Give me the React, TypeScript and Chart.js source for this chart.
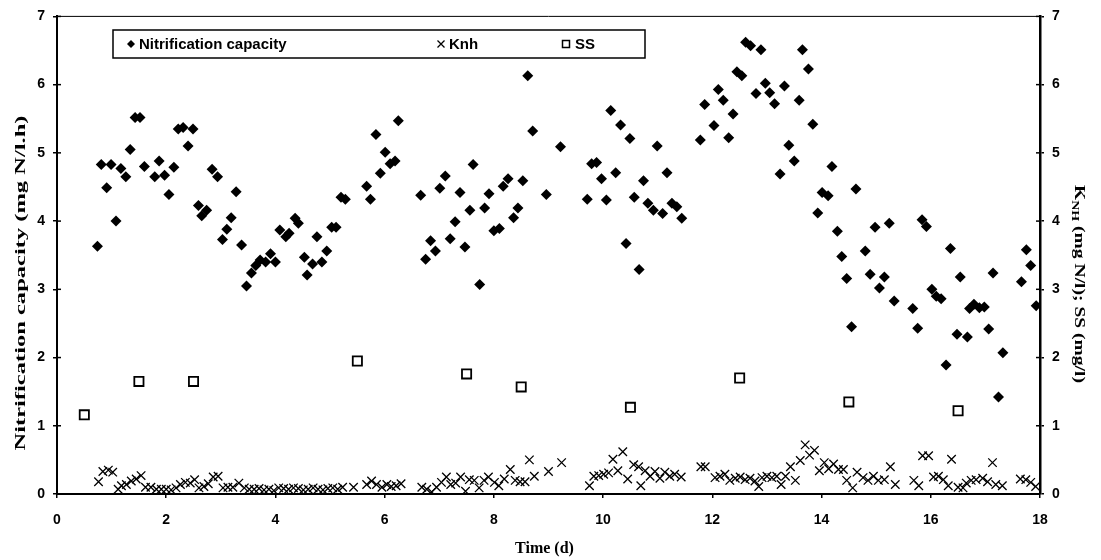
import React, { useEffect, useRef } from 'react';
import { Chart, registerables } from 'chart.js';

Chart.register(...registerables);

// ---- Data ----
const ncTime = [
  0.74, 0.81, 0.91, 0.99, 1.08, 1.17, 1.26, 1.34, 1.43, 1.52, 1.60, 1.79, 1.87, 1.97, 2.05, 2.14, 2.22, 2.31, 2.40, 2.49,
  2.59, 2.65, 2.74, 2.84, 2.94, 3.03, 3.11, 3.19, 3.28, 3.38, 3.47, 3.56, 3.64, 3.72, 3.82, 3.91, 4.00, 4.08, 4.19, 4.25,
  4.36, 4.42, 4.53, 4.58, 4.68, 4.76, 4.85, 4.94, 5.03, 5.11, 5.20, 5.28, 5.67, 5.74, 5.84, 5.92, 6.01, 6.10, 6.19, 6.25,
  6.66, 6.75, 6.84, 6.93, 7.01, 7.11, 7.20, 7.29, 7.38, 7.47, 7.56, 7.62, 7.74, 7.83, 7.91, 8.00, 8.10, 8.17, 8.26, 8.36,
  8.44, 8.53, 8.62, 8.71, 8.96, 9.22, 9.71, 9.79, 9.88, 9.97, 10.06, 10.14, 10.23, 10.32, 10.42, 10.49, 10.57, 10.66, 10.74, 10.82,
  10.92, 10.99, 11.09, 11.17, 11.26, 11.35, 11.44, 11.78, 11.86, 12.03, 12.11, 12.20, 12.30, 12.38, 12.45, 12.54, 12.61, 12.70, 12.80, 12.89,
  12.97, 13.05, 13.14, 13.24, 13.32, 13.40, 13.50, 13.59, 13.65, 13.76, 13.84, 13.93, 14.01, 14.12, 14.19, 14.29, 14.37, 14.46, 14.55, 14.63,
  14.80, 14.89, 14.98, 15.06, 15.15, 15.24, 15.33, 15.67, 15.76, 15.84, 15.92, 16.02, 16.10, 16.19, 16.28, 16.36, 16.48, 16.54, 16.67, 16.71,
  16.79, 16.89, 16.98, 17.06, 17.14, 17.24, 17.32, 17.66, 17.75, 17.83, 17.93,
];
const ncValue = [
  3.63, 4.83, 4.49, 4.83, 4.00, 4.77, 4.65, 5.05, 5.52, 5.52, 4.80, 4.65, 4.88, 4.67, 4.39, 4.79, 5.35, 5.37, 5.10, 5.35,
  4.23, 4.08, 4.16, 4.76, 4.65, 3.73, 3.88, 4.05, 4.43, 3.65, 3.05, 3.24, 3.35, 3.43, 3.40, 3.52, 3.40, 3.87, 3.77, 3.82,
  4.04, 3.97, 3.47, 3.21, 3.37, 3.77, 3.40, 3.56, 3.91, 3.91, 4.35, 4.32, 4.51, 4.32, 5.27, 4.70, 5.01, 4.84, 4.88, 5.47,
  4.38, 3.44, 3.71, 3.56, 4.48, 4.66, 3.74, 3.99, 4.42, 3.62, 4.16, 4.83, 3.07, 4.19, 4.40, 3.86, 3.89, 4.51, 4.62, 4.05,
  4.19, 4.59, 6.13, 5.32, 4.39, 5.09, 4.32, 4.84, 4.86, 4.62, 4.31, 5.62, 4.71, 5.41, 3.67, 5.21, 4.35, 3.29, 4.59, 4.26,
  4.16, 5.10, 4.11, 4.71, 4.26, 4.21, 4.04, 5.19, 5.71, 5.40, 5.93, 5.77, 5.22, 5.57, 6.19, 6.13, 6.62, 6.57, 5.87, 6.51,
  6.02, 5.88, 5.72, 4.69, 5.98, 5.11, 4.88, 5.77, 6.51, 6.23, 5.42, 4.12, 4.42, 4.37, 4.80, 3.85, 3.48, 3.16, 2.45, 4.47,
  3.56, 3.22, 3.91, 3.02, 3.18, 3.97, 2.83, 2.72, 2.43, 4.02, 3.92, 3.00, 2.90, 2.86, 1.89, 3.60, 2.34, 3.18, 2.30, 2.72,
  2.78, 2.73, 2.74, 2.42, 3.24, 1.42, 2.07, 3.11, 3.58, 3.35, 2.76,
];

const knhTime = [
  0.76, 0.84, 0.94, 1.02, 1.12, 1.18, 1.27, 1.36, 1.45, 1.54, 1.62, 1.72, 1.82, 1.91, 2.00, 2.09, 2.18, 2.26, 2.35, 2.44,
  2.52, 2.60, 2.69, 2.77, 2.86, 2.95, 3.04, 3.13, 3.22, 3.33, 3.43, 3.52, 3.61, 3.70, 3.79, 3.88, 3.97, 4.06, 4.15, 4.24,
  4.33, 4.42, 4.51, 4.60, 4.69, 4.78, 4.87, 4.96, 5.05, 5.14, 5.23, 5.43, 5.67, 5.76, 5.85, 5.95, 6.04, 6.12, 6.21, 6.30,
  6.68, 6.77, 6.86, 6.95, 7.04, 7.13, 7.21, 7.30, 7.39, 7.48, 7.55, 7.64, 7.73, 7.82, 7.90, 8.01, 8.09, 8.19, 8.30, 8.39,
  8.48, 8.57, 8.65, 8.74, 9.00, 9.24, 9.75, 9.83, 9.92, 10.01, 10.10, 10.18, 10.27, 10.36, 10.45, 10.56, 10.65, 10.69, 10.77, 10.86,
  10.95, 11.04, 11.13, 11.22, 11.31, 11.43, 11.79, 11.87, 12.05, 12.14, 12.23, 12.32, 12.42, 12.51, 12.60, 12.69, 12.78, 12.85, 12.91, 13.00,
  13.09, 13.18, 13.26, 13.34, 13.43, 13.52, 13.61, 13.70, 13.78, 13.87, 13.96, 14.05, 14.13, 14.22, 14.31, 14.40, 14.46, 14.57, 14.65, 14.76,
  14.85, 14.95, 15.04, 15.15, 15.26, 15.35, 15.69, 15.78, 15.85, 15.96, 16.05, 16.14, 16.23, 16.32, 16.38, 16.50, 16.59, 16.65, 16.74, 16.83,
  16.95, 17.04, 17.13, 17.19, 17.31, 17.64, 17.74, 17.83, 17.92,
];
const knhValue = [
  0.18, 0.33, 0.35, 0.32, 0.07, 0.12, 0.14, 0.19, 0.22, 0.27, 0.10, 0.10, 0.07, 0.07, 0.07, 0.06, 0.09, 0.14, 0.17, 0.16,
  0.21, 0.09, 0.11, 0.15, 0.25, 0.26, 0.09, 0.10, 0.10, 0.16, 0.09, 0.07, 0.07, 0.08, 0.06, 0.07, 0.05, 0.09, 0.08, 0.07,
  0.09, 0.08, 0.06, 0.07, 0.09, 0.07, 0.06, 0.08, 0.09, 0.07, 0.10, 0.10, 0.14, 0.19, 0.14, 0.10, 0.14, 0.11, 0.12, 0.15,
  0.10, 0.07, 0.03, 0.10, 0.17, 0.25, 0.14, 0.16, 0.25, 0.04, 0.21, 0.20, 0.09, 0.20, 0.25, 0.17, 0.12, 0.22, 0.36, 0.20,
  0.18, 0.18, 0.50, 0.26, 0.33, 0.46, 0.12, 0.26, 0.27, 0.29, 0.31, 0.51, 0.34, 0.62, 0.22, 0.43, 0.40, 0.12, 0.34, 0.26,
  0.33, 0.23, 0.32, 0.26, 0.29, 0.25, 0.40, 0.40, 0.24, 0.26, 0.29, 0.20, 0.23, 0.25, 0.21, 0.23, 0.19, 0.11, 0.24, 0.26,
  0.24, 0.26, 0.14, 0.26, 0.40, 0.20, 0.49, 0.72, 0.57, 0.64, 0.34, 0.46, 0.37, 0.44, 0.36, 0.36, 0.20, 0.09, 0.32, 0.24,
  0.20, 0.26, 0.20, 0.21, 0.40, 0.14, 0.20, 0.12, 0.56, 0.56, 0.25, 0.26, 0.21, 0.12, 0.51, 0.10, 0.09, 0.16, 0.20, 0.21,
  0.23, 0.18, 0.46, 0.14, 0.12, 0.22, 0.21, 0.17, 0.11,
];

const ssTime = [0.5, 1.5, 2.5, 5.5, 7.5, 8.5, 10.5, 12.5, 14.5, 16.5];
const ssValue = [1.16, 1.65, 1.65, 1.95, 1.76, 1.57, 1.27, 1.70, 1.35, 1.22];

const seriesNames = ['Nitrification capacity', 'Knh', 'SS'];
const xTitle = 'Time (d)';
const yTitle = 'Nitrification capacity (mg N/l.h)';
const y2TitleParts = ['K', 'NH', ' (mg N/l); SS (mg/l)'];

const tickFont = { family: "'Liberation Sans', Arial, sans-serif", weight: 'bold' as const, size: 14 };

function drawMarker(ctx: CanvasRenderingContext2D, kind: string, x: number, y: number) {
  ctx.save();
  ctx.strokeStyle = '#000';
  ctx.fillStyle = '#000';
  ctx.beginPath();
  if (kind === 'diamond') {
    const r = 4;
    ctx.moveTo(x - r, y);
    ctx.lineTo(x, y - r);
    ctx.lineTo(x + r, y);
    ctx.lineTo(x, y + r);
    ctx.closePath();
    ctx.fill();
  } else if (kind === 'cross') {
    const r = 3.5;
    ctx.lineWidth = 1.3;
    ctx.moveTo(x - r, y - r);
    ctx.lineTo(x + r, y + r);
    ctx.moveTo(x + r, y - r);
    ctx.lineTo(x - r, y + r);
    ctx.stroke();
  } else {
    const r = 3.5;
    ctx.lineWidth = 1.5;
    ctx.fillStyle = '#fff';
    ctx.rect(x - r, y - r, 2 * r, 2 * r);
    ctx.fill();
    ctx.stroke();
  }
  ctx.restore();
}

const framePlugin = {
  id: 'framePlugin',
  afterDraw(chart: any) {
    const { ctx, chartArea: a, scales } = chart;
    ctx.save();
    ctx.strokeStyle = '#000';
    // top border
    ctx.lineWidth = 1;
    ctx.beginPath();
    ctx.moveTo(a.left, a.top);
    ctx.lineTo(a.right, a.top);
    ctx.stroke();
    // inner tick marks on both y axes
    ctx.lineWidth = 1.5;
    scales.y.ticks.forEach((t: any) => {
      const py = scales.y.getPixelForValue(t.value);
      ctx.beginPath();
      ctx.moveTo(a.left, py);
      ctx.lineTo(a.left + 4, py);
      ctx.stroke();
    });
    scales.y2.ticks.forEach((t: any) => {
      const py = scales.y2.getPixelForValue(t.value);
      ctx.beginPath();
      ctx.moveTo(a.right - 4, py);
      ctx.lineTo(a.right, py);
      ctx.stroke();
    });

    // legend box
    const bx = 113, by = 30, bw = 532, bh = 28;
    ctx.fillStyle = '#fff';
    ctx.fillRect(bx, by, bw, bh);
    ctx.lineWidth = 1.5;
    ctx.strokeRect(bx, by, bw, bh);
    const ly = by + bh / 2;
    ctx.fillStyle = '#000';
    ctx.font = "bold 15px 'Liberation Sans', Arial, sans-serif";
    ctx.textBaseline = 'middle';
    ctx.textAlign = 'left';
    const items = [
      { kind: 'diamond', mx: 131, tx: 139 },
      { kind: 'cross', mx: 441, tx: 449 },
      { kind: 'square', mx: 566, tx: 575 },
    ];
    items.forEach((it, i) => {
      drawMarker(ctx, it.kind, it.mx, ly);
      ctx.fillText(seriesNames[i], it.tx, ly + 1);
    });

    // x title
    ctx.font = "bold 16px 'Liberation Serif', 'Times New Roman', serif";
    ctx.textAlign = 'center';
    ctx.textBaseline = 'middle';
    ctx.fillText(xTitle, (a.left + a.right) / 2 - 4, 549);

    // left title (rotated, stretched along its length)
    ctx.save();
    ctx.translate(21, 283);
    ctx.rotate(-Math.PI / 2);
    ctx.font = "bold 14px 'Liberation Serif', 'Times New Roman', serif";
    const lw = ctx.measureText(yTitle).width;
    ctx.scale(335 / lw, 1);
    ctx.textAlign = 'center';
    ctx.fillText(yTitle, 0, 0);
    ctx.restore();

    // right title with subscript
    ctx.save();
    ctx.translate(1079, 284);
    ctx.rotate(Math.PI / 2);
    const mainFont = "bold 14px 'Liberation Serif', 'Times New Roman', serif";
    const subFont = "bold 10px 'Liberation Serif', 'Times New Roman', serif";
    ctx.font = mainFont;
    const w0 = ctx.measureText(y2TitleParts[0]).width;
    const w2 = ctx.measureText(y2TitleParts[2]).width;
    ctx.font = subFont;
    const w1 = ctx.measureText(y2TitleParts[1]).width;
    const total = w0 + w1 + w2;
    const s = 198 / total;
    ctx.scale(s, 1);
    ctx.textAlign = 'left';
    let cx = -total / 2;
    ctx.font = mainFont;
    ctx.fillText(y2TitleParts[0], cx, 0);
    cx += w0;
    ctx.font = subFont;
    ctx.fillText(y2TitleParts[1], cx, 4);
    cx += w1;
    ctx.font = mainFont;
    ctx.fillText(y2TitleParts[2], cx, 0);
    ctx.restore();

    ctx.restore();
  },
};

export default function App() {
  const canvasRef = useRef<HTMLCanvasElement | null>(null);

  useEffect(() => {
    document.body.style.margin = '0';
    const canvas = canvasRef.current;
    if (!canvas) return;
    const chart = new Chart(canvas, {
      type: 'scatter',
      data: {
        datasets: [
          {
            label: seriesNames[0],
            data: ncTime.map((t, i) => ({ x: t, y: ncValue[i] })),
            pointStyle: 'rectRot',
            pointRadius: 5.5,
            backgroundColor: '#000',
            borderColor: '#000',
            borderWidth: 0,
            yAxisID: 'y',
          },
          {
            label: seriesNames[1],
            data: knhTime.map((t, i) => ({ x: t, y: knhValue[i] })),
            pointStyle: 'crossRot',
            pointRadius: 6,
            backgroundColor: '#000',
            borderColor: '#000',
            borderWidth: 1.3,
            yAxisID: 'y2',
          },
          {
            label: seriesNames[2],
            data: ssTime.map((t, i) => ({ x: t, y: ssValue[i] })),
            pointStyle: 'rect',
            pointRadius: 6.5,
            backgroundColor: '#fff',
            borderColor: '#000',
            borderWidth: 1.8,
            yAxisID: 'y2',
          },
        ],
      },
      options: {
        responsive: false,
        animation: false,
        devicePixelRatio: 1,
        layout: { padding: { top: 15, left: 0, right: 0, bottom: 0 } },
        plugins: {
          legend: { display: false },
          tooltip: { enabled: false },
          title: { display: false },
        },
        scales: {
          x: {
            type: 'linear',
            min: 0,
            max: 18,
            ticks: { stepSize: 2, font: tickFont, color: '#000', padding: 14, maxRotation: 0 },
            grid: { drawOnChartArea: false, drawTicks: true, tickLength: 4, color: '#000', lineWidth: 1.5 },
            border: { display: true, color: '#000', width: 2 },
            afterFit: (s: any) => { s.height = 66; },
          },
          y: {
            type: 'linear',
            position: 'left',
            min: 0,
            max: 7,
            ticks: { stepSize: 1, font: tickFont, color: '#000', padding: 8 },
            grid: { drawOnChartArea: false, drawTicks: true, tickLength: 4, color: '#000', lineWidth: 1.5 },
            border: { display: true, color: '#000', width: 2 },
            afterFit: (s: any) => { s.width = 57; },
          },
          y2: {
            type: 'linear',
            position: 'right',
            min: 0,
            max: 7,
            ticks: { stepSize: 1, font: tickFont, color: '#000', padding: 8 },
            grid: { drawOnChartArea: false, drawTicks: true, tickLength: 4, color: '#000', lineWidth: 1.5 },
            border: { display: true, color: '#000', width: 2.5 },
            afterFit: (s: any) => { s.width = 61; },
          },
        },
      },
      plugins: [framePlugin],
    } as any);
    return () => chart.destroy();
  }, []);

  return (
    <div style={{ position: 'absolute', left: 0, top: 0, width: 1101, height: 560, background: '#fff' }}>
      <canvas ref={canvasRef} width={1101} height={560} />
    </div>
  );
}
